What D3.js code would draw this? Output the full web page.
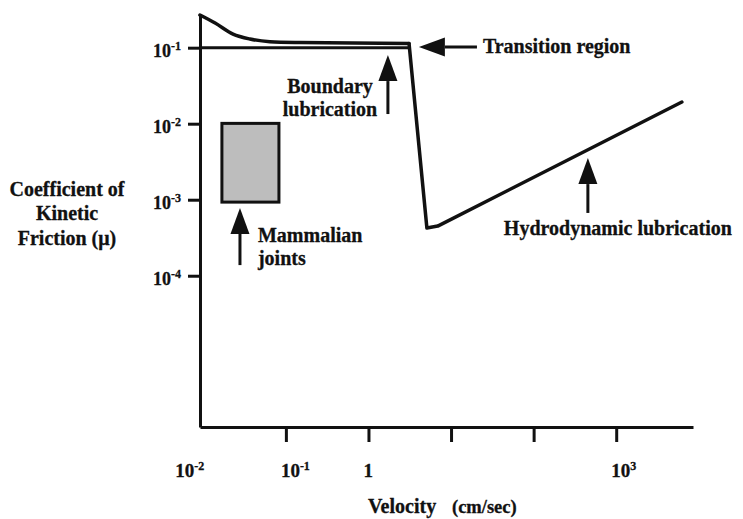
<!DOCTYPE html>
<html>
<head>
<meta charset="utf-8">
<script src="https://cdn.jsdelivr.net/npm/d3@7"></script>
<style>
body { margin: 0; background: #fff; }
text { font-family: "Liberation Serif", "Times New Roman", serif; font-weight: bold; fill: #111; stroke: #111; stroke-width: 0.3px; }
</style>
</head>
<body>
<div class="chart"></div>
<script>
// friction curve, velocity in cm/sec vs coefficient of kinetic friction
var boundaryVel = [0.0091, 0.0139, 0.0229, 0.0367, 0.0641, 0.148, 3.1];
var boundaryMu = [0.269, 0.211, 0.151, 0.130, 0.120, 0.117, 0.1135];
var hydroVel = [3.1, 5.1, 6.9, 6240];
var hydroMu = [0.1135, 4.24e-4, 4.5e-4, 0.0193];
// flat 10^-1 line under the boundary curve
var floorVel = [0.0091, 3.1];
var floorMu = [0.1, 0.1];
// mammalian joints box
var jointVel = [0.0168, 0.0824];
var jointMu = [0.00093, 0.0101];

var yTicks = [1e-1, 1e-2, 1e-3, 1e-4];
var yTickExp = ["-1", "-2", "-3", "-4"];
var xTicks = [1e-1, 1, 10, 100, 1000];
var xLabelVals = [1e-2, 1e-1, 1, 1000];
var xLabelBase = ["10", "10", "1", "10"];
var xLabelExp = ["-2", "-1", "", "3"];

// arrows: [tailVel, tailMu, tipVel, tipMu]
var arrows = [
    [0.0278, 1.38e-4, 0.0278, 7.8e-4],
    [1.72, 0.0134, 1.72, 0.080],
    [20.6, 0.102, 4.08, 0.102],
    [454, 6.7e-4, 454, 3.53e-3]
];
// annotation text: [vel, mu, anchor, lines]
var notes = [
    [0.0459, 2.77e-4, "start", ["Mammalian", "joints"]],
    [0.342, 0.0254, "middle", ["Boundary", "lubrication"]],
    [24.3, 0.0851, "start", ["Transition region"]],
    [43.6, 3.43e-4, "start", ["Hydrodynamic lubrication"]]
];

var svg = d3.select(".chart")
    .append("svg")
    .attr("width", 743)
    .attr("height", 519);

var x = d3.scaleLog()
    .domain([Math.pow(10, -2.04), Math.pow(10, 3.93)])
    .range([200, 693]);

var y = d3.scaleLog()
    .domain([Math.pow(10, -5.99), Math.pow(10, -0.57)])
    .range([427, 15]);

// axes
var yAxis = svg.append("g")
    .attr("transform", "translate(200,0)")
    .call(d3.axisLeft(y).tickValues(yTicks).tickSize(12).tickSizeOuter(0).tickPadding(8).tickFormat(""));

var xAxis = svg.append("g")
    .attr("transform", "translate(0,427)")
    .call(d3.axisBottom(x).tickValues(xTicks).tickSize(15).tickSizeOuter(0).tickFormat(""));

[yAxis, xAxis].forEach(function (g) {
    g.select(".domain").attr("stroke", "#111").attr("stroke-width", 3);
    g.selectAll(".tick line").attr("stroke", "#111").attr("stroke-width", 3);
});

// y tick labels with superscripts
yAxis.selectAll(".tick text")
    .each(function (d, i) {
        var t = d3.select(this).attr("dy", "0.5em").style("font-size", "18px").attr("x", -19);
        t.append("tspan").text("10");
        t.append("tspan").attr("dy", -7).style("font-size", "12px").text(yTickExp[i]);
    });

// x labels
xLabelVals.forEach(function (v, i) {
    var t = svg.append("text")
        .attr("x", x(v) - (i == 0 ? 28 : 5))
        .attr("y", 477)
        .style("font-size", "19px");
    t.append("tspan").text(xLabelBase[i]);
    if (xLabelExp[i] != "")
        t.append("tspan").attr("dy", -7).style("font-size", "12px").text(xLabelExp[i]);
});

// axis titles
var xt = svg.append("text").attr("x", 368).attr("y", 513);
xt.append("tspan").style("font-size", "20px").text("Velocity");
xt.append("tspan").attr("x", 452).style("font-size", "18.5px").text("(cm/sec)");

var yLabel = ["Coefficient of", "Kinetic", "Friction (\u03bc)"];
svg.selectAll(".ylab")
    .data(yLabel)
    .enter()
    .append("text")
    .attr("class", "ylab")
    .attr("x", 67)
    .attr("y", function (d, i) { return 196 + i * 24.3; })
    .attr("text-anchor", "middle")
    .style("font-size", "20px")
    .text(function (d) { return d; });

// joints box
svg.append("rect")
    .attr("x", x(jointVel[0]))
    .attr("y", y(jointMu[1]))
    .attr("width", x(jointVel[1]) - x(jointVel[0]))
    .attr("height", y(jointMu[0]) - y(jointMu[1]))
    .attr("fill", "#bdbdbd")
    .attr("stroke", "#111")
    .attr("stroke-width", 3);

// friction curve
var smooth = d3.line()
    .x(function (d) { return x(d[0]); })
    .y(function (d) { return y(d[1]); })
    .curve(d3.curveMonotoneX);
var straight = d3.line()
    .x(function (d) { return x(d[0]); })
    .y(function (d) { return y(d[1]); });

svg.append("path")
    .attr("d", smooth(d3.zip(boundaryVel, boundaryMu)))
    .attr("fill", "none").attr("stroke", "#111").attr("stroke-width", 3.5)
    .attr("stroke-linecap", "round");
svg.append("path")
    .attr("d", straight(d3.zip(floorVel, floorMu)))
    .attr("fill", "none").attr("stroke", "#111").attr("stroke-width", 3);
svg.append("path")
    .attr("d", straight(d3.zip(hydroVel, hydroMu)))
    .attr("fill", "none").attr("stroke", "#111").attr("stroke-width", 3.5)
    .attr("stroke-linejoin", "round").attr("stroke-linecap", "round");

// arrows
arrows.forEach(function (a) {
    var x1 = x(a[0]), y1 = y(a[1]), x2 = x(a[2]), y2 = y(a[3]);
    var len = Math.sqrt((x2 - x1) * (x2 - x1) + (y2 - y1) * (y2 - y1));
    var ux = (x2 - x1) / len, uy = (y2 - y1) / len;
    var head = 26, half = 9.5;
    var bx = x2 - ux * head, by = y2 - uy * head;
    svg.append("line")
        .attr("x1", x1).attr("y1", y1).attr("x2", bx).attr("y2", by)
        .attr("stroke", "#111").attr("stroke-width", 3);
    svg.append("polygon")
        .attr("points", [[x2, y2], [bx - uy * half, by + ux * half], [bx + uy * half, by - ux * half]].join(" "))
        .attr("fill", "#111");
});

// annotation text
notes.forEach(function (n) {
    n[3].forEach(function (line, i) {
        svg.append("text")
            .attr("x", x(n[0]))
            .attr("y", y(n[1]) + i * 23)
            .attr("text-anchor", n[2])
            .style("font-size", "20px")
            .text(line);
    });
});
</script>
</body>
</html>
